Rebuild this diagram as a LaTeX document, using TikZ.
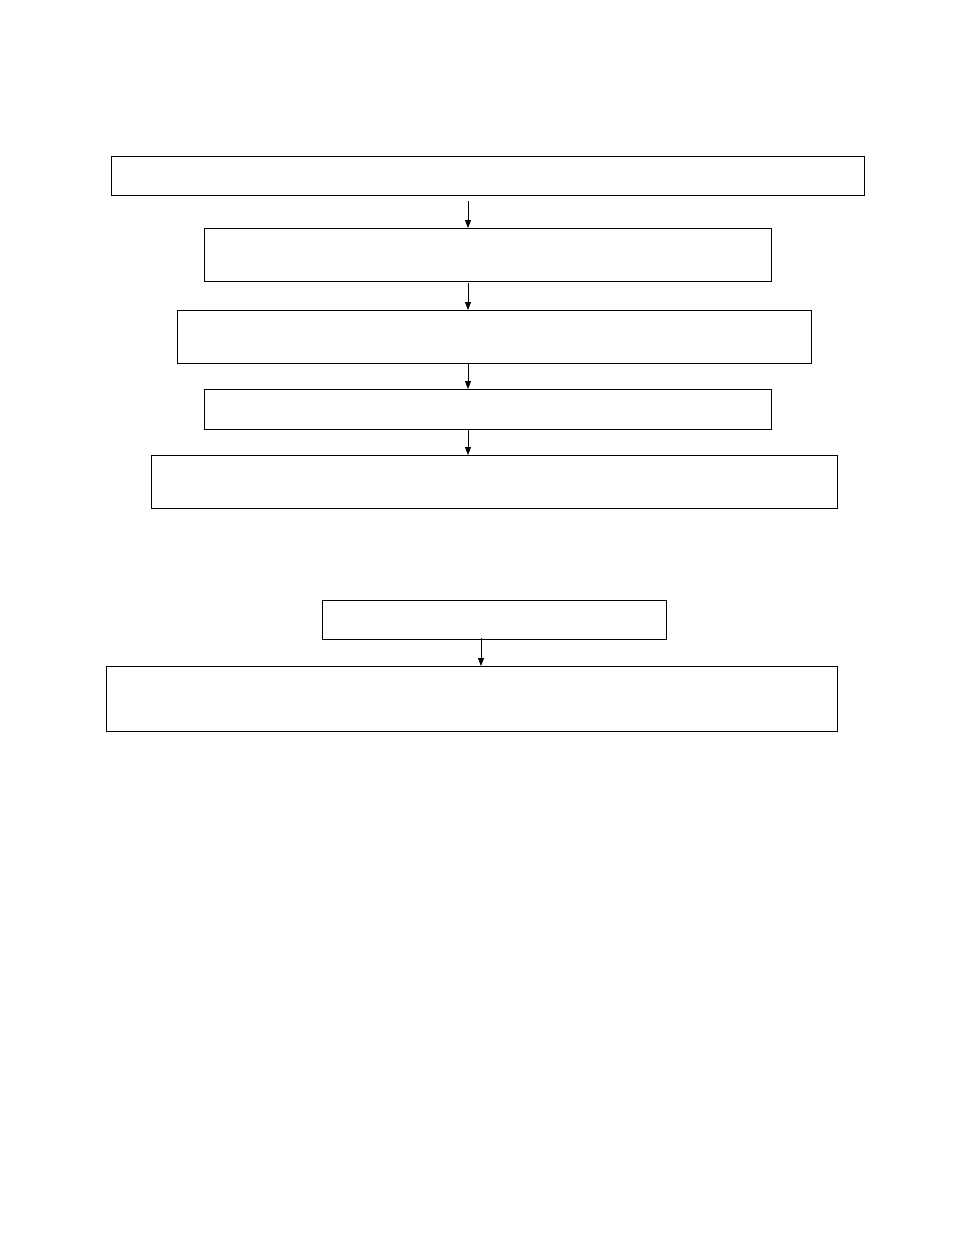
\documentclass[tikz,border=0pt]{standalone}
\usetikzlibrary{arrows.meta}
\begin{document}
\begin{tikzpicture}[x=1pt,y=1pt,
  box/.style={draw=black,line width=1pt,inner sep=0pt,outer sep=0pt,anchor=north west},
  conn/.style={draw=black,line width=0.8pt,-{Triangle[length=8pt,width=6pt]}}]
\useasboundingbox[fill=white] (0,0) rectangle (954,-1235);
\node[box,minimum width=753,minimum height=39] (b1) at (111,-156) {};
\node[box,minimum width=567,minimum height=53] (b2) at (204,-228) {};
\node[box,minimum width=634,minimum height=53] (b3) at (177,-310) {};
\node[box,minimum width=567,minimum height=40] (b4) at (204,-389) {};
\node[box,minimum width=686,minimum height=53] (b5) at (151,-455) {};
\node[box,minimum width=344,minimum height=39] (b6) at (322,-600) {};
\node[box,minimum width=731,minimum height=65] (b7) at (106,-666) {};
\coordinate (s1) at (468,-201);
\coordinate (s2) at (468,-283);
\coordinate (s3) at (468,-363);
\coordinate (s4) at (468,-429);
\coordinate (s6) at (481,-638);
\draw[conn] (s1) -- (s1 |- b2.north);
\draw[conn] (s2) -- (s2 |- b3.north);
\draw[conn] (s3) -- (s3 |- b4.north);
\draw[conn] (s4) -- (s4 |- b5.north);
\draw[conn] (s6) -- (s6 |- b7.north);
\end{tikzpicture}
\end{document}
